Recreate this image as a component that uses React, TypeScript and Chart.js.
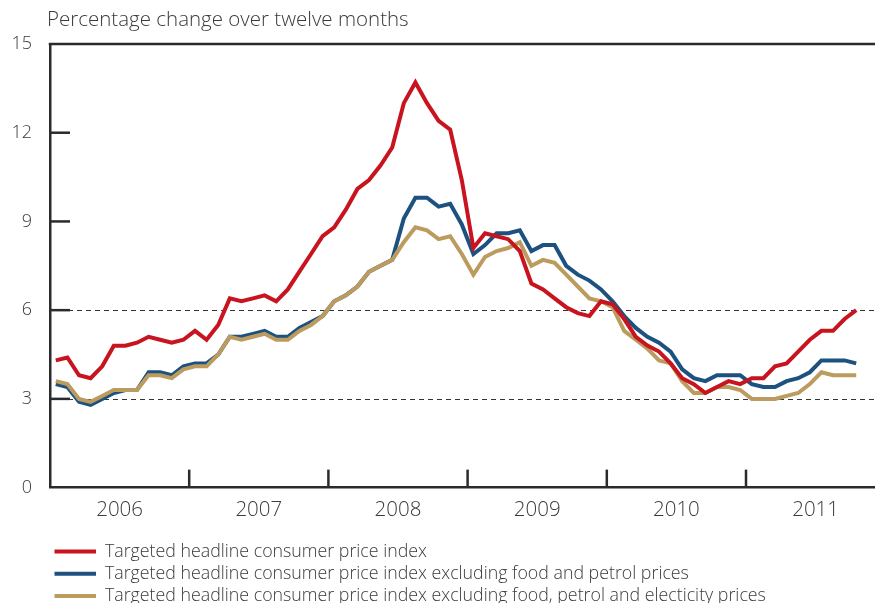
import { useEffect, useRef } from 'react';
import { Chart, registerables } from 'chart.js';

Chart.register(...registerables);

// ---- data (monthly, Jan 2006 – Oct 2011) ----
const titleText = 'Percentage change over twelve months';
const yearLabels = ['2006', '2007', '2008', '2009', '2010', '2011'];
const yTickValues = [0, 3, 6, 9, 12, 15];
const dashedLevels = [3, 6];
const seriesNames = [
  'Targeted headline consumer price index',
  'Targeted headline consumer price index excluding food and petrol prices',
  'Targeted headline consumer price index excluding food, petrol and electicity prices',
];

const headline = [
  4.3, 4.4, 3.8, 3.7, 4.1, 4.8, 4.8, 4.9, 5.1, 5.0, 4.9, 5.0,
  5.3, 5.0, 5.5, 6.4, 6.3, 6.4, 6.5, 6.3, 6.7, 7.3, 7.9, 8.5,
  8.8, 9.4, 10.1, 10.4, 10.9, 11.5, 13.0, 13.7, 13.0, 12.4, 12.1, 10.4,
  8.1, 8.6, 8.5, 8.4, 8.0, 6.9, 6.7, 6.4, 6.1, 5.9, 5.8, 6.3,
  6.2, 5.7, 5.1, 4.8, 4.6, 4.2, 3.7, 3.5, 3.2, 3.4, 3.6, 3.5,
  3.7, 3.7, 4.1, 4.2, 4.6, 5.0, 5.3, 5.3, 5.7, 6.0,
];

const exFoodPetrol = [
  3.5, 3.4, 2.9, 2.8, 3.0, 3.2, 3.3, 3.3, 3.9, 3.9, 3.8, 4.1,
  4.2, 4.2, 4.5, 5.1, 5.1, 5.2, 5.3, 5.1, 5.1, 5.4, 5.6, 5.8,
  6.3, 6.5, 6.8, 7.3, 7.5, 7.7, 9.1, 9.8, 9.8, 9.5, 9.6, 8.9,
  7.9, 8.2, 8.6, 8.6, 8.7, 8.0, 8.2, 8.2, 7.5, 7.2, 7.0, 6.7,
  6.3, 5.8, 5.4, 5.1, 4.9, 4.6, 4.0, 3.7, 3.6, 3.8, 3.8, 3.8,
  3.5, 3.4, 3.4, 3.6, 3.7, 3.9, 4.3, 4.3, 4.3, 4.2,
];

const exFoodPetrolElec = [
  3.6, 3.5, 3.0, 2.9, 3.1, 3.3, 3.3, 3.3, 3.8, 3.8, 3.7, 4.0,
  4.1, 4.1, 4.5, 5.1, 5.0, 5.1, 5.2, 5.0, 5.0, 5.3, 5.5, 5.8,
  6.3, 6.5, 6.8, 7.3, 7.5, 7.7, 8.3, 8.8, 8.7, 8.4, 8.5, 7.9,
  7.2, 7.8, 8.0, 8.1, 8.3, 7.5, 7.7, 7.6, 7.2, 6.8, 6.4, 6.3,
  6.1, 5.3, 5.0, 4.7, 4.3, 4.2, 3.6, 3.2, 3.2, 3.4, 3.4, 3.3,
  3.0, 3.0, 3.0, 3.1, 3.2, 3.5, 3.9, 3.8, 3.8, 3.8,
];

const seriesColors = ['#C8141E', '#1C5180', '#BC9C5E'];

// ---- styling ----
const FONT = '"Open Sans", "Liberation Sans", Arial, sans-serif';
const TEXT = '#3a3a3a';
const AXIS = '#2b2b2b';

// month index -> mid-month position in months since Jan 2006
const toPoints = (arr: number[]) => arr.map((v, i) => ({ x: i + 0.5, y: v }));

const decor = {
  id: 'decor',
  beforeDatasetsDraw(chart: any) {
    const { ctx, chartArea: a, scales } = chart;
    const x = scales.x;
    const y = scales.y;
    ctx.save();
    // dashed reference lines
    ctx.strokeStyle = '#333';
    ctx.lineWidth = 1.2;
    ctx.setLineDash([5, 4]);
    dashedLevels.forEach((v) => {
      const py = Math.round(y.getPixelForValue(v)) + 0.5;
      ctx.beginPath();
      ctx.moveTo(a.left, py);
      ctx.lineTo(a.right, py);
      ctx.stroke();
    });
    ctx.setLineDash([]);
    // inward y ticks
    ctx.strokeStyle = AXIS;
    ctx.lineWidth = 2.5;
    yTickValues.forEach((v) => {
      if (v === 0 || v === 15) return;
      const py = y.getPixelForValue(v);
      ctx.beginPath();
      ctx.moveTo(a.left, py);
      ctx.lineTo(a.left + 20, py);
      ctx.stroke();
    });
    // top frame line
    const pt = y.getPixelForValue(15);
    ctx.beginPath();
    ctx.moveTo(a.left - 1.25, pt);
    ctx.lineTo(a.right, pt);
    ctx.stroke();
    // year boundary ticks (upward from x axis)
    for (let k = 1; k < yearLabels.length; k++) {
      const px = x.getPixelForValue(k * 12);
      ctx.beginPath();
      ctx.moveTo(px, a.bottom);
      ctx.lineTo(px, a.bottom - 18);
      ctx.stroke();
    }
    ctx.restore();
  },
  afterDraw(chart: any) {
    const { ctx } = chart;
    ctx.save();
    ctx.font = `300 20.5px ${FONT}`;
    ctx.fillStyle = TEXT;
    ctx.textBaseline = 'middle';
    ctx.textAlign = 'left';
    ctx.fillText(titleText, 47, 20);
    ctx.restore();
  },
};

export default function App() {
  const ref = useRef<HTMLCanvasElement | null>(null);

  useEffect(() => {
    if (!ref.current) return;
    const seriesData = [headline, exFoodPetrol, exFoodPetrolElec];
    const drawOrder = [0, 2, 1]; // red on top, tan above blue
    const chart = new Chart(ref.current, {
      type: 'line',
      data: {
        datasets: seriesData.map((arr, i) => ({
          label: seriesNames[i],
          data: toPoints(arr),
          borderColor: seriesColors[i],
          backgroundColor: seriesColors[i],
          borderWidth: 4,
          pointRadius: 0,
          tension: 0,
          fill: false,
          order: drawOrder[i],
        })),
      },
      options: {
        responsive: false,
        animation: false,
        events: [],
        layout: { padding: { left: 0, right: 0, top: 44, bottom: 0 } },
        plugins: {
          tooltip: { enabled: false },
          title: { display: false },
          legend: {
            position: 'bottom',
            align: 'start',
            fullSize: false,
            labels: {
              boxWidth: 41.5,
              boxHeight: 4,
              padding: 4.5,
              color: TEXT,
              font: { family: FONT, size: 17.8, weight: '300' as any },
              sort: (a: any, b: any) => a.datasetIndex - b.datasetIndex,
              generateLabels: (c: any) =>
                (Chart.defaults.plugins.legend.labels.generateLabels as any)(c).map((l: any) => ({
                  ...l,
                  fillStyle: l.strokeStyle,
                  lineWidth: 0,
                })),
            },
          },
        },
        scales: {
          x: {
            type: 'linear',
            min: 0,
            max: 71.12,
            grid: { display: false, drawTicks: false },
            border: { display: true, color: AXIS, width: 2.5 },
            afterBuildTicks: (s: any) => {
              s.ticks = yearLabels.map((_, k) => ({ value: k * 12 + 6 }));
            },
            afterFit: (s: any) => {
              s.height = 50.5;
            },
            ticks: {
              autoSkip: false,
              maxRotation: 0,
              padding: 10.2,
              color: TEXT,
              font: { family: FONT, size: 20.5, weight: '300' as any },
              callback: (_v: any, i: number) => yearLabels[i],
            },
          },
          y: {
            type: 'linear',
            min: 0,
            max: 15,
            grid: { display: false, drawTicks: false },
            border: { display: true, color: AXIS, width: 2.5 },
            afterBuildTicks: (s: any) => {
              s.ticks = yTickValues.map((v) => ({ value: v }));
            },
            afterFit: (s: any) => {
              s.width = 50;
            },
            ticks: {
              padding: 18,
              color: TEXT,
              font: { family: FONT, size: 18, weight: '300' as any },
              callback: (v: any) => String(v),
            },
          },
        },
      } as any,
      plugins: [decor],
    });
    return () => chart.destroy();
  }, []);

  return (
    <div
      style={{
        position: 'fixed',
        left: 0,
        top: 0,
        width: 875,
        height: 603,
        overflow: 'hidden',
        background: '#fff',
      }}
    >
      <canvas ref={ref} width={875} height={615} style={{ display: 'block' }} />
    </div>
  );
}
